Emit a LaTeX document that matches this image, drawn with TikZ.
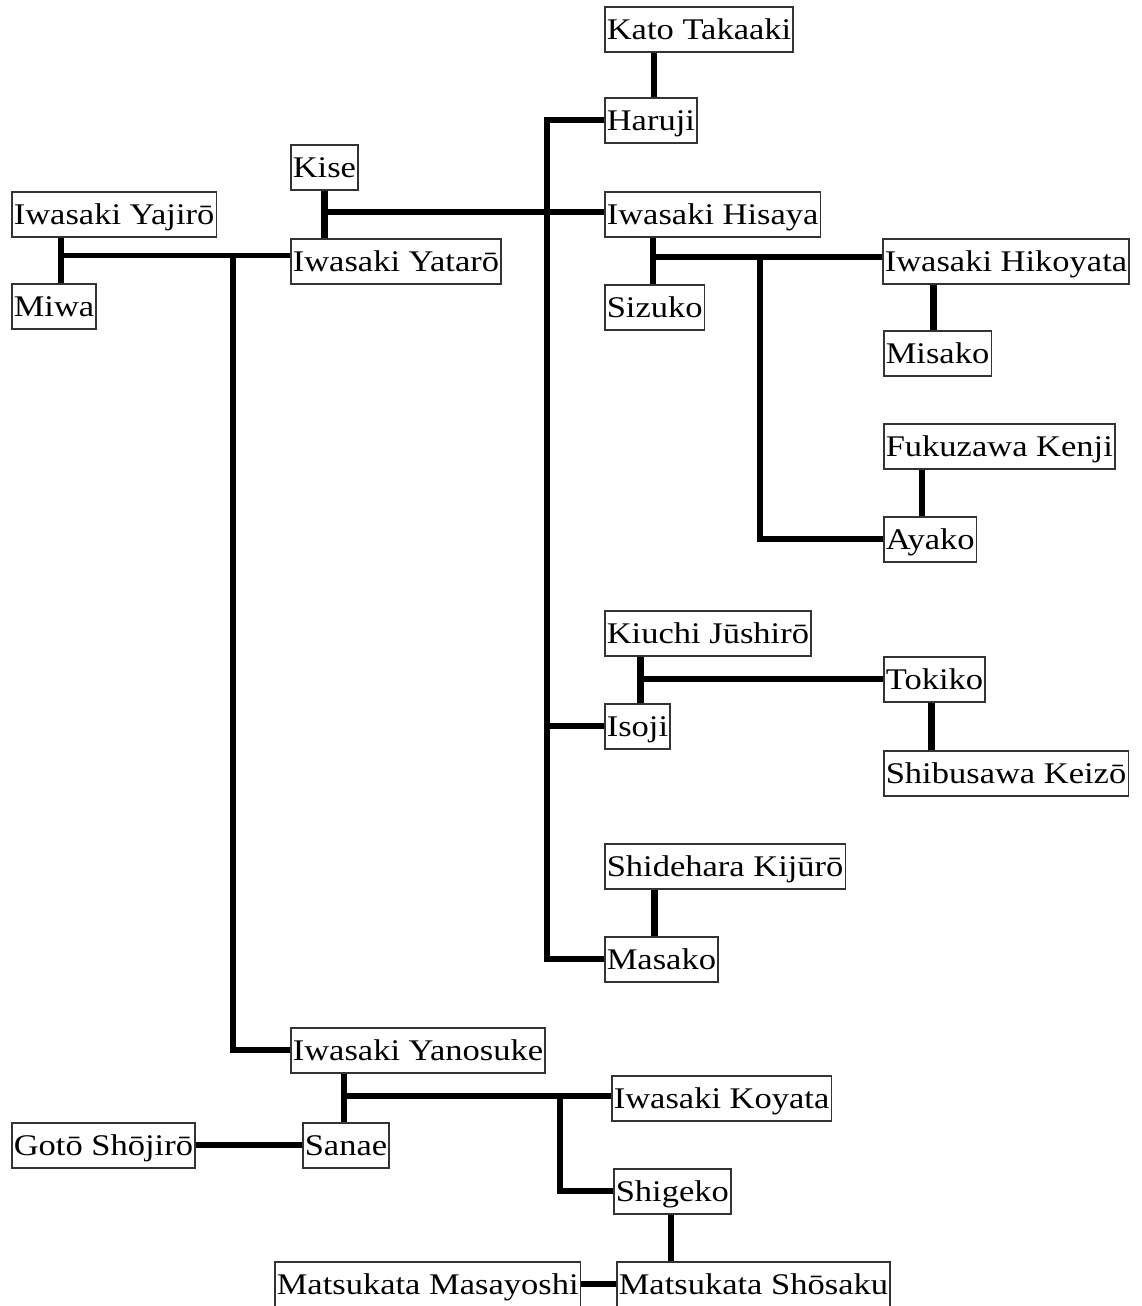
\documentclass[tikz,border=0pt]{standalone}
\usepackage{fontspec}
\setmainfont{Liberation Serif}[FakeStretch=1.15]
\usetikzlibrary{calc}
\begin{document}
\begin{tikzpicture}[x=1pt,y=-1pt,
  person/.style={draw=black!80,line width=1.6pt,fill=white,anchor=north west,
    inner xsep=2pt,inner ysep=0pt,text height=33pt,text depth=12pt,
    font=\fontsize{30}{36}\selectfont},
  conn/.style={line width=6.2pt,line cap=butt,line join=miter}]
\useasboundingbox (0,0) rectangle (1141,1306);
\fill[white] (0,0) rectangle (1141,1306);
% nodes
\node[person] (kato) at (604,6) {Kato Takaaki};
\node[person] (haruji) at (604,97) {Haruji};
\node[person] (kise) at (290,144) {Kise};
\node[person] (yajiro) at (11,191) {Iwasaki Yajirō};
\node[person] (hisaya) at (604,191) {Iwasaki Hisaya};
\node[person] (yataro) at (290,238) {Iwasaki Yatarō};
\node[person] (hikoyata) at (882,238) {Iwasaki Hikoyata};
\node[person] (miwa) at (11,283) {Miwa};
\node[person] (sizuko) at (604,284) {Sizuko};
\node[person] (misako) at (883,330) {Misako};
\node[person] (fukuzawa) at (883,423) {Fukuzawa Kenji};
\node[person] (ayako) at (883,516) {Ayako};
\node[person] (kiuchi) at (604,610) {Kiuchi Jūshirō};
\node[person] (tokiko) at (883,656) {Tokiko};
\node[person] (isoji) at (604,703) {Isoji};
\node[person] (shibusawa) at (883,750) {Shibusawa Keizō};
\node[person] (shidehara) at (604,843) {Shidehara Kijūrō};
\node[person] (masako) at (604,936) {Masako};
\node[person] (yanosuke) at (290,1027) {Iwasaki Yanosuke};
\node[person] (koyata) at (611,1075) {Iwasaki Koyata};
\node[person] (goto) at (11,1122) {Gotō Shōjirō};
\node[person] (sanae) at (302,1122) {Sanae};
\node[person] (shigeko) at (613,1168) {Shigeko};
\node[person] (masayoshi) at (274,1261) {Matsukata Masayoshi};
\node[person] (shosaku) at (616,1261) {Matsukata Shōsaku};
% helper coordinates for bus lines
\coordinate (busA) at (547,0);
\coordinate (busB) at (233,0);
\coordinate (busC) at (760,0);
\coordinate (busD) at (560,0);
% Kato - Haruji
\draw[conn] ([xshift=3pt]haruji.north) -- ([xshift=3pt]haruji.north |- kato.south);
% Kise - Yataro
\draw[conn] (kise.south) -- (kise.south |- yataro.north);
\coordinate (ky) at ($(kise.south)!0.45!(kise.south |- yataro.north)$);
\draw[conn] (ky) -- (ky -| hisaya.west);
\draw[conn] (haruji.west) -- (haruji.west -| busA) -- (masako.west -| busA) -- (masako.west);
\draw[conn] (isoji.west -| busA) -- (isoji.west);
% Yajiro - Miwa
\draw[conn] ([xshift=7pt]miwa.north) -- ([xshift=7pt]miwa.north |- yajiro.south);
\coordinate (ym) at ($([xshift=7pt]miwa.north)!0.6!([xshift=7pt]miwa.north |- yajiro.south)$);
\draw[conn,line width=5pt] (ym) -- (ym -| yataro.west);
\draw[conn] (ym -| busB) -- (yanosuke.west -| busB) -- (yanosuke.west);
% Hisaya - Sizuko
\draw[conn] ([xshift=-2pt]sizuko.north) -- ([xshift=-2pt]sizuko.north |- hisaya.south);
\coordinate (hs) at ($([xshift=-2pt]sizuko.north)!0.58!([xshift=-2pt]sizuko.north |- hisaya.south)$);
\draw[conn] (hs) -- (hs -| hikoyata.west);
\draw[conn] (hs -| busC) -- (ayako.west -| busC) -- (ayako.west);
% Hikoyata - Misako
\draw[conn] ([xshift=-4pt]misako.north) -- ([xshift=-4pt]misako.north |- hikoyata.south);
% Fukuzawa - Ayako
\draw[conn] ([xshift=-8pt]ayako.north) -- ([xshift=-8pt]ayako.north |- fukuzawa.south);
% Kiuchi - Isoji
\draw[conn] ([xshift=3pt]isoji.north) -- ([xshift=3pt]isoji.north |- kiuchi.south);
\coordinate (ki) at ($([xshift=3pt]isoji.north)!0.52!([xshift=3pt]isoji.north |- kiuchi.south)$);
\draw[conn] (ki) -- (ki -| tokiko.west);
% Tokiko - Shibusawa
\draw[conn] ([xshift=-3pt]tokiko.south) -- ([xshift=-3pt]tokiko.south |- shibusawa.north);
% Shidehara - Masako
\draw[conn] ([xshift=-7pt]masako.north) -- ([xshift=-7pt]masako.north |- shidehara.south);
% Yanosuke - Sanae
\draw[conn] ([xshift=-2pt]sanae.north) -- ([xshift=-2pt]sanae.north |- yanosuke.south);
\coordinate (ys) at ($([xshift=-2pt]sanae.north)!0.53!([xshift=-2pt]sanae.north |- yanosuke.south)$);
\draw[conn] (ys) -- (ys -| koyata.west);
\draw[conn] (ys -| busD) -- (shigeko.west -| busD) -- (shigeko.west);
% Goto - Sanae
\draw[conn] (goto.east) -- (sanae.west);
% Shigeko - Shosaku
\draw[conn] ([xshift=-1pt]shigeko.south) -- ([xshift=-1pt]shigeko.south |- shosaku.north);
% Masayoshi - Shosaku
\draw[conn] (masayoshi.east) -- (shosaku.west);
\end{tikzpicture}
\end{document}
